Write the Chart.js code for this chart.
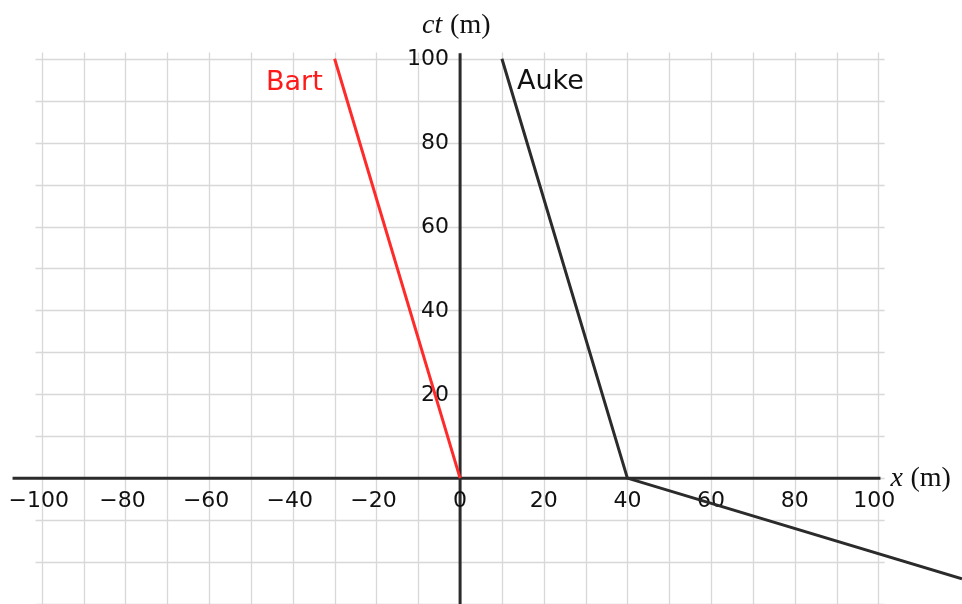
<!DOCTYPE html>
<html>
<head>
<meta charset="utf-8">
<script src="https://cdn.jsdelivr.net/npm/chart.js@4/dist/chart.umd.min.js"></script>
<style>
  body { margin: 0; background: #fff; }
  #wrap { width: 962px; height: 604px; position: relative; }
</style>
</head>
<body>
<div id="wrap"><canvas id="myChart"></canvas></div>
<script>
// worldlines (x in m, ct in m)
const bartX = [0, -30]
const bartCt = [0, 100]
const aukeX = [10, 40, 120]
const aukeCt = [100, 0, -24]

// tick labels
const xTicks = [-100, -80, -60, -40, -20, 0, 20, 40, 60, 80, 100]
const yTicks = [20, 40, 60, 80, 100]
const gridX = [-100, -90, -80, -70, -60, -50, -40, -30, -20, -10, 0, 10, 20, 30, 40, 50, 60, 70, 80, 90, 100]
const gridY = [-30, -20, -10, 0, 10, 20, 30, 40, 50, 60, 70, 80, 90, 100]

const toPoints = (xs, ys) => xs.map((x, i) => ({ x: x, y: ys[i] }))

const fmt = v => (v < 0 ? '\u2212' + Math.abs(v) : String(v))

const spacetime = {
    id: 'spacetime',
    beforeDatasetsDraw(chart) {
        const ctx = chart.ctx
        const xs = chart.scales.x
        const ys = chart.scales.y
        const px = v => xs.getPixelForValue(v)
        const py = v => ys.getPixelForValue(v)
        ctx.save()

        // grid
        ctx.strokeStyle = '#d8d8d8'
        ctx.lineWidth = 1.3
        gridX.forEach(v => {
            ctx.beginPath()
            ctx.moveTo(Math.round(px(v)) + 0.5, py(101.5))
            ctx.lineTo(Math.round(px(v)) + 0.5, py(-31))
            ctx.stroke()
        })
        gridY.forEach(v => {
            ctx.beginPath()
            ctx.moveTo(px(-101.5), Math.round(py(v)) + 0.5)
            ctx.lineTo(px(101.5), Math.round(py(v)) + 0.5)
            ctx.stroke()
        })

        // axes
        ctx.strokeStyle = '#2b2b2b'
        ctx.lineWidth = 3
        ctx.beginPath()
        ctx.moveTo(px(-107), py(0))
        ctx.lineTo(px(100.5), py(0))
        ctx.stroke()
        ctx.beginPath()
        ctx.moveTo(px(0), py(101.3))
        ctx.lineTo(px(0), py(-31))
        ctx.stroke()

        // tick labels
        ctx.fillStyle = '#111'
        ctx.font = '22px "DejaVu Sans"'
        ctx.textAlign = 'center'
        ctx.textBaseline = 'middle'
        xTicks.forEach(v => {
            let off = v < 0 ? -3 : (v === 100 ? -4 : 0)
            ctx.fillText(fmt(v), px(v) + off, py(0) + 23)
        })
        ctx.textAlign = 'right'
        yTicks.forEach(v => {
            ctx.fillText(fmt(v), px(0) - 11, py(v) + 1)
        })

        // axis titles
        ctx.textAlign = 'left'
        ctx.textBaseline = 'alphabetic'
        ctx.font = 'italic 28px "Liberation Serif"'
        ctx.fillText('ct', px(0) - 38, 33)
        ctx.fillText('x', px(100.5) + 10, py(0) + 8)
        ctx.font = '28px "Liberation Serif"'
        ctx.fillText('(m)', px(0) - 10, 33)
        ctx.fillText('(m)', px(100.5) + 30, py(0) + 8)

        // worldline names
        ctx.font = '27px "DejaVu Sans"'
        ctx.fillStyle = '#ff1a1a'
        ctx.fillText('Bart', 266, 90)
        ctx.fillStyle = '#111'
        ctx.fillText('Auke', 517, 89)
        ctx.restore()
    }
}

const myChart = document.querySelector('#myChart')
const chart = new Chart(myChart.getContext('2d'), {
    type: 'scatter',
    data: {
        datasets: [{
            label: 'Bart',
            data: toPoints(bartX, bartCt),
            showLine: true,
            borderColor: '#ff2a2a',
            borderWidth: 3,
            pointRadius: 0
        }, {
            label: 'Auke',
            data: toPoints(aukeX, aukeCt),
            showLine: true,
            borderColor: '#2b2b2b',
            borderWidth: 3,
            pointRadius: 0
        }]
    },
    options: {
        responsive: true,
        maintainAspectRatio: false,
        animation: false,
        layout: { padding: 0 },
        plugins: {
            legend: { display: false },
            tooltip: { enabled: false }
        },
        scales: {
            x: { type: 'linear', min: -110, max: 120, display: false },
            y: { type: 'linear', min: -30, max: 114, display: false }
        }
    },
    plugins: [spacetime]
})
</script>
</body>
</html>
